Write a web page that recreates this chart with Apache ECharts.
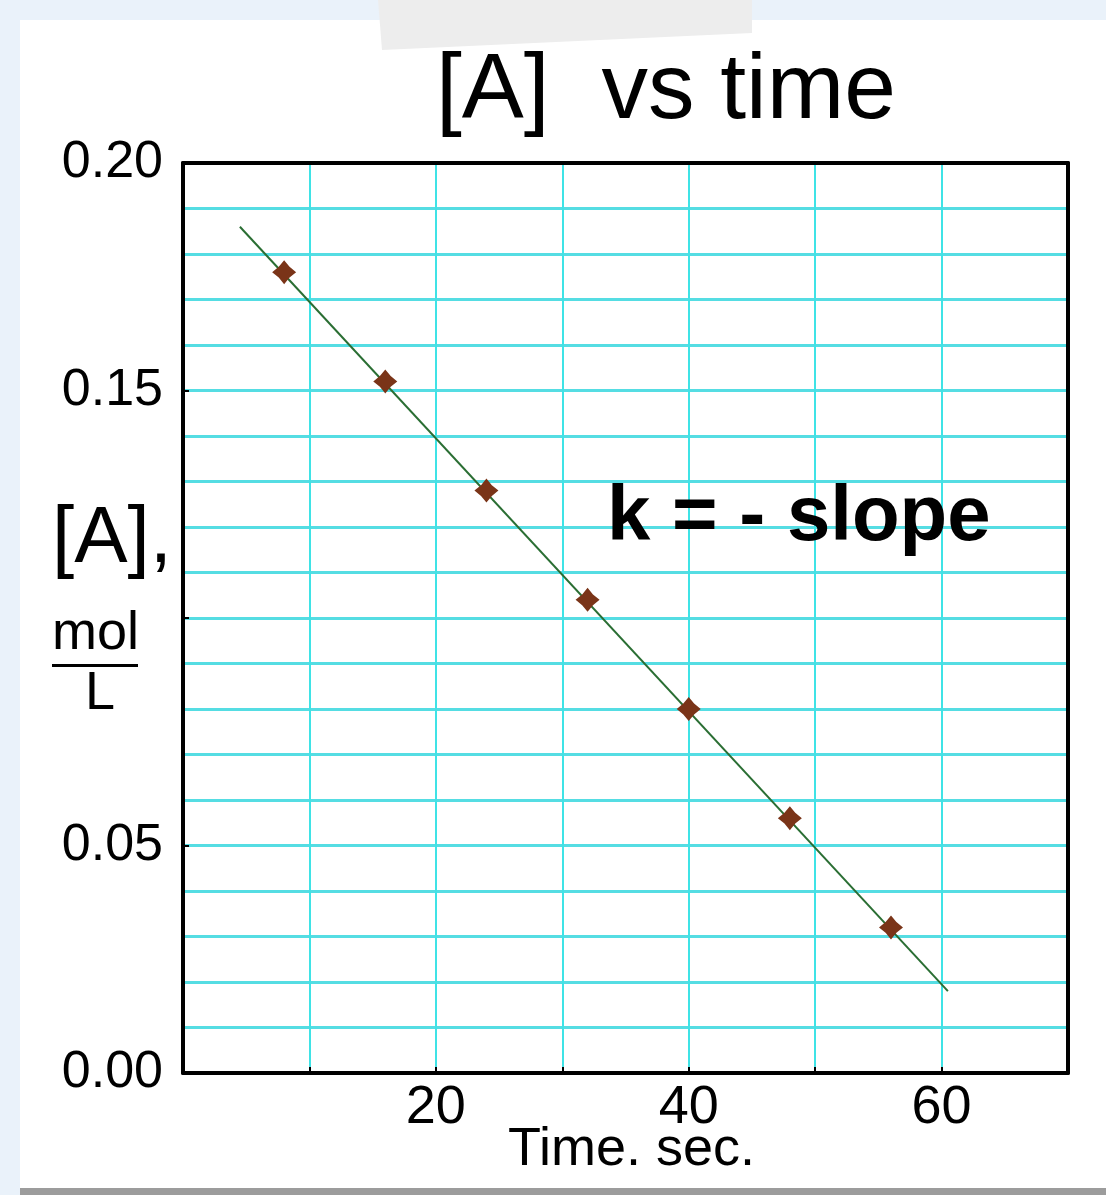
<!DOCTYPE html>
<html>
	<head>
		<meta charset="utf-8" />
		<title>[A] vs time</title>
		<script src="https://cdn.jsdelivr.net/npm/echarts@6/dist/echarts.min.js"></script>
	</head>
	<body>
		<div id="main" style="width: 1106px; height: 1195px;"></div>
	</body>
	<style>
		body{
			padding: 0px;
			margin: 0px;
		}
	</style>
	<script type="text/javascript">
// measured points, time in s and [A] in mol/L
var times = [8, 16, 24, 32, 40, 48, 56];
var concA = [0.176, 0.152, 0.128, 0.104, 0.080, 0.056, 0.032];
// ends of the drawn fit line
var fitTimes = [4.5, 60.5];
var fitConc = [0.186, 0.018];
var xLabelValues = [20, 40, 60];
var yLabelValues = [0, 0.05, 0.15, 0.2];

var font = '"Liberation Sans", Arial, sans-serif';
var cyan = '#55dde3';

var mychart = echarts.init(document.getElementById('main'));

var star = 'path://M0,-10 L4.5,-4.5 L10,0 L4.5,4.5 L0,10 L-4.5,4.5 L-10,0 L-4.5,-4.5 Z';

var xAxisBase = {
	type: 'value',
	min: 0,
	max: 70,
	interval: 10,
	axisLine: { show: true, onZero: false, lineStyle: { color: '#000', width: 4 } }
};
var yAxisBase = {
	type: 'value',
	min: 0,
	max: 0.2,
	interval: 0.05,
	axisLine: { show: true, onZero: false, lineStyle: { color: '#000', width: 4 } }
};

mychart.setOption({
	backgroundColor: '#eaf2fa',
	animation: false,
	grid: { left: 183, right: 38, top: 163, bottom: 122, show: true, backgroundColor: '#fff', borderWidth: 0 },
	graphic: [
		{ type: 'rect', z: -10, shape: { x: 20, y: 20, width: 1086, height: 1168 }, style: { fill: '#fff' } },
		{ type: 'rect', z: -10, shape: { x: 20, y: 1188, width: 1086, height: 7 }, style: { fill: '#9c9c9c' } },
		{ type: 'polygon', z: -9, shape: { points: [[378, 0], [752, 0], [752, 33], [382, 50]] }, style: { fill: '#ededed' } },
		{ type: 'text', x: 436, y: 92, style: { text: '[A]  vs time', font: 'normal 93px ' + font, fill: '#000', verticalAlign: 'middle' } },
		{ type: 'text', x: 607, y: 518, z: 10, style: { text: 'k = - slope', font: 'bold 78px ' + font, fill: '#000', verticalAlign: 'middle' } },
		{ type: 'text', x: 52, y: 540, style: { text: '[A],', font: 'normal 80px ' + font, fill: '#000', verticalAlign: 'middle' } },
		{ type: 'text', x: 52, y: 634, style: { text: 'mol', font: 'normal 54px ' + font, fill: '#000', verticalAlign: 'middle' } },
		{ type: 'rect', shape: { x: 52, y: 664, width: 86, height: 3 }, style: { fill: '#000' } },
		{ type: 'text', x: 100, y: 694, style: { text: 'L', font: 'normal 54px ' + font, fill: '#000', verticalAlign: 'middle', align: 'center' } },
		{ type: 'text', x: 508, y: 1150, style: { text: 'Time. sec.', font: 'normal 54px ' + font, fill: '#000', verticalAlign: 'middle' } }
	],
	xAxis: [
		Object.assign({}, xAxisBase, {
			position: 'bottom',
			axisTick: { show: true, inside: true, length: 6, lineStyle: { color: '#000', width: 2 } },
			axisLabel: {
				margin: 8,
				color: '#000',
				fontFamily: font,
				fontSize: 54,
				formatter: function (v) {
					return xLabelValues.indexOf(v) >= 0 ? String(v) : '';
				}
			},
			splitLine: { show: true, showMinLine: false, showMaxLine: false, lineStyle: { color: '#3fe3e6', width: 2 } }
		}),
		Object.assign({}, xAxisBase, {
			position: 'top',
			axisTick: { show: false },
			axisLabel: { show: false },
			splitLine: { show: false }
		})
	],
	yAxis: [
		Object.assign({}, yAxisBase, {
			position: 'left',
			axisTick: { show: true, inside: true, length: 6, lineStyle: { color: '#000', width: 2 } },
			minorTick: { show: false, splitNumber: 5 },
			axisLabel: {
				margin: 20,
				color: '#000',
				fontFamily: font,
				fontSize: 52,
				formatter: function (v) {
					for (var i = 0; i < yLabelValues.length; i++) {
						if (Math.abs(yLabelValues[i] - v) < 1e-9) return v.toFixed(2);
					}
					return '';
				}
			},
			splitLine: { show: true, showMinLine: false, showMaxLine: false, lineStyle: { color: cyan, width: 3 } },
			minorSplitLine: { show: true, lineStyle: { color: cyan, width: 3 } }
		}),
		Object.assign({}, yAxisBase, {
			position: 'right',
			axisTick: { show: false },
			axisLabel: { show: false },
			splitLine: { show: false }
		})
	],
	series: [
		{
			name: 'fit',
			type: 'line',
			data: fitTimes.map(function (t, i) { return [t, fitConc[i]]; }),
			symbol: 'none',
			lineStyle: { color: '#2a6e33', width: 2 },
			z: 3
		},
		{
			name: '[A]',
			type: 'scatter',
			data: times.map(function (t, i) { return [t, concA[i]]; }),
			symbol: star,
			symbolSize: 24,
			itemStyle: { color: '#7a3418', opacity: 1 },
			z: 4
		}
	]
});
	</script>
</html>
